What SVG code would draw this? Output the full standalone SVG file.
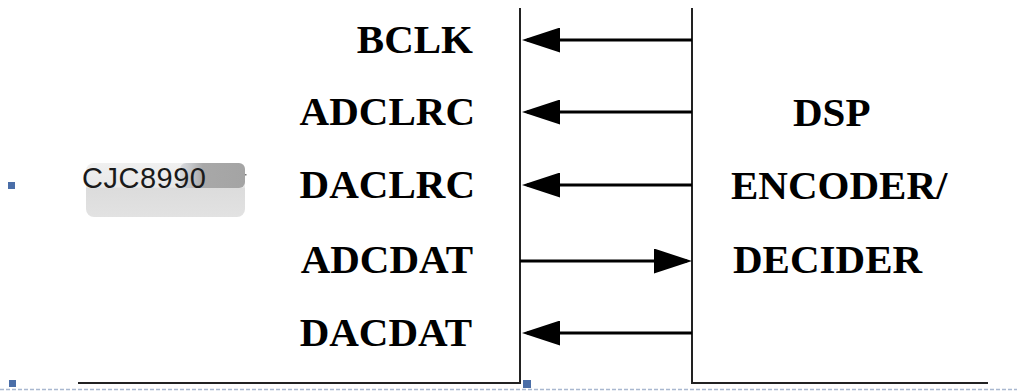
<svg xmlns="http://www.w3.org/2000/svg" width="1017" height="392" viewBox="0 0 1017 392">
<style>
.lbl{font-family:"Liberation Serif","Times New Roman",serif;font-weight:bold;font-size:41px;fill:#000}
.r{text-anchor:end}
.chip{font-family:"Liberation Sans",Arial,sans-serif;font-size:29px;fill:#1a1a1a}
.frame{stroke:#222;stroke-width:2;fill:none}
.sig{stroke:#000;stroke-width:3;fill:none;marker-end:url(#ah)}
.sq{fill:#4a6ea8}
</style>
<defs>
<marker id="ah" viewBox="0 0 38 25" refX="33" refY="12.5" markerWidth="38" markerHeight="25" markerUnits="userSpaceOnUse" orient="auto">
<path d="M0,0 L38,12.5 L0,25 Z" fill="#000"/>
</marker>
<linearGradient id="blur" x1="0" y1="0" x2="0" y2="1">
<stop offset="0" stop-color="#f0f0f0"/>
<stop offset="0.45" stop-color="#e8e8e8"/>
<stop offset="0.46" stop-color="#dcdcdc"/>
<stop offset="1" stop-color="#e2e2e2"/>
</linearGradient>
<linearGradient id="dark" x1="0" y1="0" x2="1" y2="0">
<stop offset="0" stop-color="#b8bcc4" stop-opacity="0.4"/>
<stop offset="0.35" stop-color="#a8a8a8"/>
<stop offset="1" stop-color="#a4a4a4"/>
</linearGradient>
</defs>
<rect width="1017" height="392" fill="#fff"/>
<g id="cjc8990">
<rect x="86" y="163" width="159" height="54" rx="8" fill="url(#blur)"/>
<rect x="180" y="163" width="65" height="25" rx="6" fill="url(#dark)"/>
<text class="chip" x="82" y="188" textLength="124">CJC8990</text>
<rect x="245" y="174" width="1.5" height="1.5" fill="#777"/>
</g>
<g id="frame">
<line class="frame" x1="520" y1="8" x2="520" y2="384"/>
<line class="frame" x1="692" y1="8" x2="692" y2="384"/>
<line class="frame" x1="78" y1="383" x2="520" y2="383"/>
<line class="frame" x1="692" y1="383" x2="988" y2="383"/>
<line x1="0" y1="389.5" x2="1017" y2="389.5" stroke="#a9b8d0" stroke-width="1.5" stroke-dasharray="4 2"/>
<rect class="sq" x="8" y="182" width="7" height="7"/>
<rect class="sq" x="9" y="380" width="7" height="7"/>
<rect class="sq" x="523" y="380" width="8" height="8"/>
</g>
<g id="labels">
<text class="lbl r" x="473" y="53">BCLK</text>
<text class="lbl r" x="475" y="125">ADCLRC</text>
<text class="lbl r" x="475" y="198">DACLRC</text>
<text class="lbl r" x="473" y="273">ADCDAT</text>
<text class="lbl r" x="472" y="346">DACDAT</text>
</g>
<g id="dsp">
<text class="lbl" x="793" y="126">DSP</text>
<text class="lbl" x="731" y="199">ENCODER/</text>
<text class="lbl" x="733" y="273">DECIDER</text>
</g>
<g id="connectors">
<line class="sig" x1="692" y1="40" x2="527" y2="40"/>
<line class="sig" x1="692" y1="112" x2="527" y2="112"/>
<line class="sig" x1="692" y1="185" x2="527" y2="185"/>
<line class="sig" x1="520" y1="261" x2="687" y2="261"/>
<line class="sig" x1="692" y1="333" x2="527" y2="333"/>
</g>
</svg>
